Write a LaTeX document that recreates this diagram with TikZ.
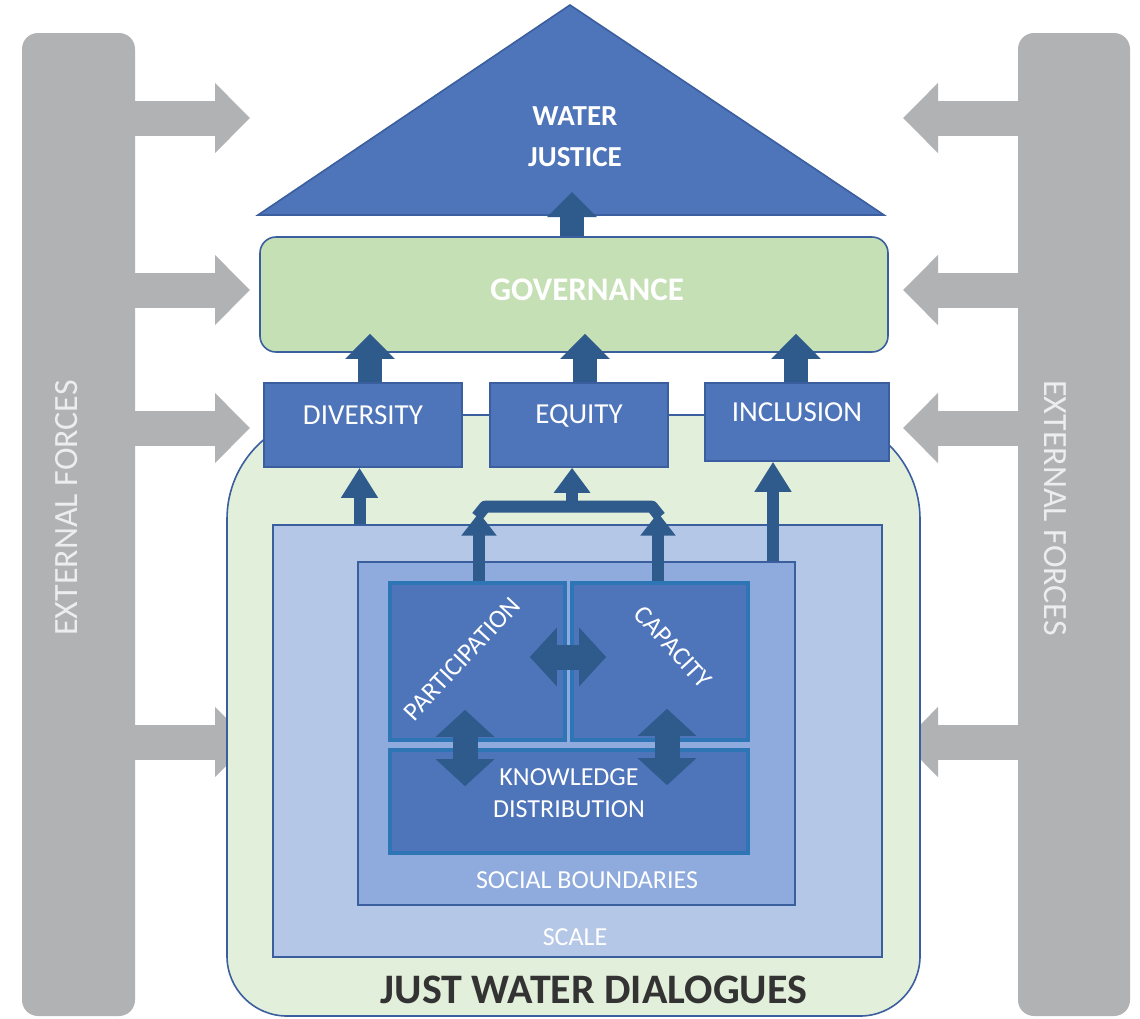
\documentclass[tikz,border=0pt]{standalone}
\usepackage{fontspec}
\setmainfont{Carlito}
\usetikzlibrary{arrows.meta,calc,fit}

\definecolor{forcegray}{HTML}{B1B2B4}
\definecolor{forcelabel}{HTML}{EDEDED}
\definecolor{justblue}{HTML}{4E74B9}
\definecolor{edgeblue}{HTML}{3A5E9E}
\definecolor{flowblue}{HTML}{2F5A8C}
\definecolor{govgreen}{HTML}{C5E0B4}
\definecolor{dialoggreen}{HTML}{E2EFDA}
\definecolor{scaleblue}{HTML}{B4C7E7}
\definecolor{socialblue}{HTML}{8FAADC}
\definecolor{rimblue}{HTML}{2E75B6}
\definecolor{titlegray}{HTML}{333333}

\tikzset{
  forcebar/.style={fill=forcegray, rounded corners=8pt, inner sep=0pt},
  forcetext/.style={text=forcelabel, font=\fontsize{17}{20}\selectfont},
  forcearrow/.style={draw=forcegray, line width=17.5pt, -{Triangle[width=34pt,length=17.5pt]}},
  pillar/.style={fill=justblue, draw=edgeblue, line width=0.8pt, inner sep=0pt,
    text=white, font=\fontsize{14.5}{17}\selectfont},
  layer/.style={draw=edgeblue, line width=0.8pt, inner sep=0pt},
  core/.style={fill=justblue, draw=rimblue, line width=1.8pt, inner sep=0pt,
    text=white, align=center, font=\fontsize{13}{16}\selectfont},
  lighttext/.style={text=white, font=\fontsize{13}{16}\selectfont},
  bigarrow/.style={draw=flowblue, line width=12pt, -{Triangle[width=24pt,length=12.5pt]}},
  upflow/.style={draw=flowblue, line width=6pt, -{Triangle[width=17.5pt,length=15pt]}},
  twoway/.style={draw=flowblue, line width=12.5pt,
    {Triangle[width=28.5pt,length=13.5pt]}-{Triangle[width=28.5pt,length=13.5pt]}},
}

\begin{document}
\begin{tikzpicture}[x=0.5pt, y=-0.5pt]
  \useasboundingbox (0,0) rectangle (1140,1018);

  % external forces on both sides
  \node[forcebar, fit={(22,33) (135,1016)}] (leftbar) {};
  \node[forcebar, fit={(1018,33) (1130,1016)}] (rightbar) {};
  \node[forcetext, rotate=90] (leftforces) at (67,508) {EXTERNAL FORCES};
  \node[forcetext, rotate=-90] (rightforces) at (1055,508) {EXTERNAL FORCES};
  \foreach \y in {118,290,428,742} {
    \coordinate (inL\y) at (250,\y);
    \coordinate (inR\y) at (903,\y);
    \draw[forcearrow] (inL\y -| leftbar.east) -- (inL\y);
    \draw[forcearrow] (inR\y -| rightbar.west) -- (inR\y);
  }

  % roof
  \draw[fill=justblue, draw=edgeblue, line width=0.8pt] (258,215) -- (570,5) -- (884,215) -- cycle;
  \coordinate (eaves) at (570,215);
  \node[text=white, align=center, font=\fontsize{14.5}{20.5}\selectfont\bfseries] (justice) at (575,137) {WATER\\JUSTICE};

  % governance
  \node[fill=govgreen, draw=edgeblue, line width=0.8pt, rounded corners=8pt, inner sep=0pt,
    fit={(260,237) (888,352)}] (gov) {};
  \node[text=white, font=\fontsize{16.5}{19}\selectfont\bfseries] (govtext) at (587,290) {GOVERNANCE};

  % dialogue space
  \draw[fill=dialoggreen, draw=edgeblue, line width=0.8pt, rounded corners=52pt]
    (573,415) -- (920,415) -- (920,800) [rounded corners=30pt] -- (920,1016) -- (227,1016)
    -- (227,800) [rounded corners=52pt] -- (227,415) -- cycle;
  \node[layer, fill=scaleblue, fit={(273,525) (882,957)}] (scalebox) {};
  \node[layer, fill=socialblue, fit={(358,562) (795,905)}] (social) {};
  \node[lighttext] (scaletext) at (575,937) {SCALE};
  \node[lighttext] (socialtext) at (587,880) {SOCIAL BOUNDARIES};
  \node[text=titlegray, font=\fontsize{21}{24}\selectfont\bfseries] (title) at (594,990) {JUST WATER DIALOGUES};

  % core elements
  \node[core, fit={(390,583) (565,740)}] (part) {};
  \node[core, fit={(572,583) (748,740)}] (cap) {};
  \node[core, fit={(390,750) (748,853)}] (know) {KNOWLEDGE\\DISTRIBUTION};
  \node[lighttext, rotate=47] (parttext) at (462,659) {PARTICIPATION};
  \node[lighttext, rotate=-47.5] (captext) at (673,647) {CAPACITY};

  % pillars
  \node[pillar, fit={(264,383) (462,467)}] (div) {DIVERSITY};
  \node[pillar, fit={(490,383) (668,467)}] (equ) {EQUITY};
  \node[pillar, fit={(705,383) (889,461)}] (inc) {INCLUSION};

  % upward flows
  \draw[bigarrow, shorten >=-11.5pt] ($(gov.north)+(-2,0)$) -- ($(gov.north |- eaves)+(-2,0)$);
  \draw[bigarrow, shorten >=-9.5pt] ($(div.north)+(7,0)$) -- ($(div.north |- gov.south)+(7,0)$);
  \draw[bigarrow, shorten >=-9.5pt] ($(equ.north)+(6,0)$) -- ($(equ.north |- gov.south)+(6,0)$);
  \draw[bigarrow, shorten >=-9.5pt] ($(inc.north)+(-1,0)$) -- ($(inc.north |- gov.south)+(-1,0)$);
  \draw[upflow] ($(div.south |- scalebox.north)+(-3.5,0)$) -- ($(div.south)+(-3.5,0)$);
  \draw[upflow] ($(inc.south |- social.north)+(-24,0)$) -- ($(inc.south)+(-24,0)$);

  % fork from participation and capacity into equity
  \coordinate (forkL) at ($(part.north)+(1.5,-74.5)$);
  \coordinate (forkR) at ($(cap.north)+(-2,-74.5)$);
  \coordinate (forkM) at ($(forkL)!0.52!(forkR)$);
  \draw[flowblue, line width=6pt, line join=round]
    ($(forkL)+(-2,10)$) -- ($(forkL)+(6,0)$) -- ($(forkR)+(-6,0)$) -- ($(forkR)+(2,10)$);
  \draw[upflow, -{Triangle[width=17pt,length=11.5pt]}] ($(part.north)+(1.5,0)$) -- ($(forkL)+(0,6)$);
  \draw[upflow, -{Triangle[width=17pt,length=11.5pt]}] ($(cap.north)+(-2,0)$) -- ($(forkR)+(0,6)$);
  \draw[upflow, -{Triangle[width=17.5pt,length=12.5pt]}] (forkM) -- (equ.south -| forkM);

  % exchanges between the core elements
  \draw[twoway] ($(part.east)+(-37,-4.5)$) -- ($(cap.west)+(36,-4.5)$);
  \draw[twoway] ($(part.south)+(-12.5,-32)$) -- ($(know.north -| part.south)+(-12.5,38)$);
  \draw[twoway] ($(cap.south)+(7,-33)$) -- ($(know.north -| cap.south)+(7,37)$);
\end{tikzpicture}
\end{document}
